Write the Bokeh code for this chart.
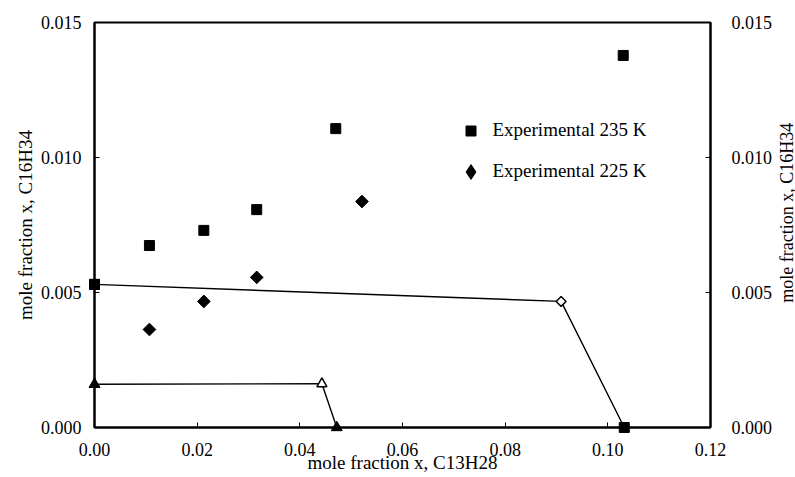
from bokeh.plotting import figure
from bokeh.layouts import row
from bokeh.models import (LinearAxis, FixedTicker, PrintfTickFormatter, Range1d,
                          Legend, LegendItem, Label)
from bokeh.embed import file_html
from bokeh.resources import INLINE
import numpy as np

# Experimental data
exp235_x = [0.0, 0.0107, 0.0213, 0.0316, 0.0470, 0.1030]
exp235_y = [0.0053, 0.00674, 0.00730, 0.00807, 0.01107, 0.01378]
exp225_x = [0.0107, 0.0213, 0.0316, 0.0521]
exp225_y = [0.00363, 0.00467, 0.00556, 0.00837]

# Calculated phase boundaries
calc235_x = [0.0, 0.0909, 0.1032]
calc235_y = [0.0053, 0.00467, 0.0]
calc225_x = [0.0, 0.0443, 0.0472]
calc225_y = [0.00160, 0.00162, 0.0]

x_ticks = [0.0, 0.02, 0.04, 0.06, 0.08, 0.10, 0.12]
y_ticks = [0.0, 0.005, 0.010, 0.015]

FONT = "Liberation Serif"
Y_LABEL = "mole fraction x, C16H34"

MAIN_W = 775
p = figure(width=MAIN_W, height=477, output_backend="svg", toolbar_location=None,
           x_range=Range1d(0, 0.12), y_range=Range1d(0, 0.015),
           min_border_left=94, min_border_right=MAIN_W - 711, min_border_top=22,
           min_border_bottom=50,
           background_fill_color="white", border_fill_color="white")
p.xgrid.visible = False
p.ygrid.visible = False
p.outline_line_color = "black"
p.outline_line_width = 2

def style_axis(ax):
    ax.axis_line_color = "black"
    ax.axis_line_width = 2
    ax.major_tick_in = 5
    ax.major_tick_out = 0
    ax.major_tick_line_color = "black"
    ax.minor_tick_line_color = None
    ax.major_label_text_font = FONT
    ax.major_label_text_font_size = "18px"
    ax.major_label_text_color = "black"
    ax.axis_label_text_font = FONT
    ax.axis_label_text_font_size = "19px"
    ax.axis_label_text_font_style = "normal"
    ax.axis_label_text_color = "black"

xa = p.xaxis[0]
xa.ticker = FixedTicker(ticks=x_ticks)
xa.formatter = PrintfTickFormatter(format="%.2f")
xa.axis_label = "mole fraction x, C13H28"
style_axis(xa)
xa.major_label_standoff = 15
xa.axis_label_standoff = -7

ya = p.yaxis[0]
ya.ticker = FixedTicker(ticks=y_ticks)
ya.formatter = PrintfTickFormatter(format="%.3f")
ya.axis_label = Y_LABEL
style_axis(ya)
ya.major_label_standoff = 13
ya.axis_label_standoff = 2

ra = LinearAxis(ticker=FixedTicker(ticks=y_ticks), formatter=PrintfTickFormatter(format="%.3f"))
style_axis(ra)
ra.major_label_standoff = 21
p.add_layout(ra, "right")

# Calculated lines
p.line(calc235_x, calc235_y, line_color="black", line_width=1.4)
p.line(calc225_x, calc225_y, line_color="black", line_width=1.4)

# Line markers
p.scatter([calc235_x[0], calc235_x[2]], [calc235_y[0], calc235_y[2]], marker="square",
          size=10, fill_color="black", line_color="black", level="overlay")
p.scatter([calc235_x[1]], [calc235_y[1]], marker="square", angle=np.pi/4, size=7,
          fill_color="white", line_color="black", line_width=1.5, level="overlay")
p.scatter([calc225_x[0], calc225_x[2]], [calc225_y[0], calc225_y[2]], marker="triangle",
          size=11, fill_color="black", line_color="black", level="overlay")
p.scatter([calc225_x[1]], [calc225_y[1]], marker="triangle", size=10,
          fill_color="white", line_color="black", line_width=1.5, level="overlay")

# Experimental
r235 = p.scatter(exp235_x, exp235_y, marker="square", size=10, fill_color="black",
                 line_color="black", level="overlay")
p.scatter(exp225_x, exp225_y, marker="square", angle=np.pi/4, size=9,
          fill_color="black", line_color="black", level="overlay")
# legend-only glyph for the diamond series (point lies outside the plotted ranges)
r225_leg = p.scatter(x=[-1.0], y=[-1.0], marker="diamond", size=14, fill_color="black",
                     line_color="black")

common = dict(border_line_color=None, background_fill_alpha=0, label_text_font=FONT,
              label_text_font_size="19px", label_text_color="black", label_height=20,
              padding=0, margin=0)
legend1 = Legend(items=[LegendItem(label="Experimental 235 K", renderers=[r235])],
                 location=(363.5, 284.5), glyph_width=25, glyph_height=25,
                 label_standoff=10, **common)
legend2 = Legend(items=[LegendItem(label="Experimental 225 K", renderers=[r225_leg])],
                 location=(357.5, 237.5), glyph_width=37, glyph_height=37,
                 label_standoff=4, **common)
p.add_layout(legend1, "center")
p.add_layout(legend2, "center")

# Narrow strip holding the right-hand axis title (reads bottom to top)
p2 = figure(width=795 - MAIN_W, height=477, output_backend="svg", toolbar_location=None,
            x_range=Range1d(0, 1), y_range=Range1d(0, 477), x_axis_type=None,
            y_axis_type=None, min_border=0, min_border_left=0, min_border_right=0,
            min_border_top=0, min_border_bottom=0,
            background_fill_color="white", border_fill_color="white")
p2.outline_line_color = None
p2.xgrid.visible = False
p2.ygrid.visible = False
p2.add_layout(Label(x=0.55, y=477 - 224, text=Y_LABEL, angle=np.pi / 2,
                    text_align="center", text_baseline="middle", text_font=FONT,
                    text_font_size="18px", text_color="black"))

layout = row(p, p2, spacing=0)
open("out.html", "w").write(file_html(layout, INLINE))
